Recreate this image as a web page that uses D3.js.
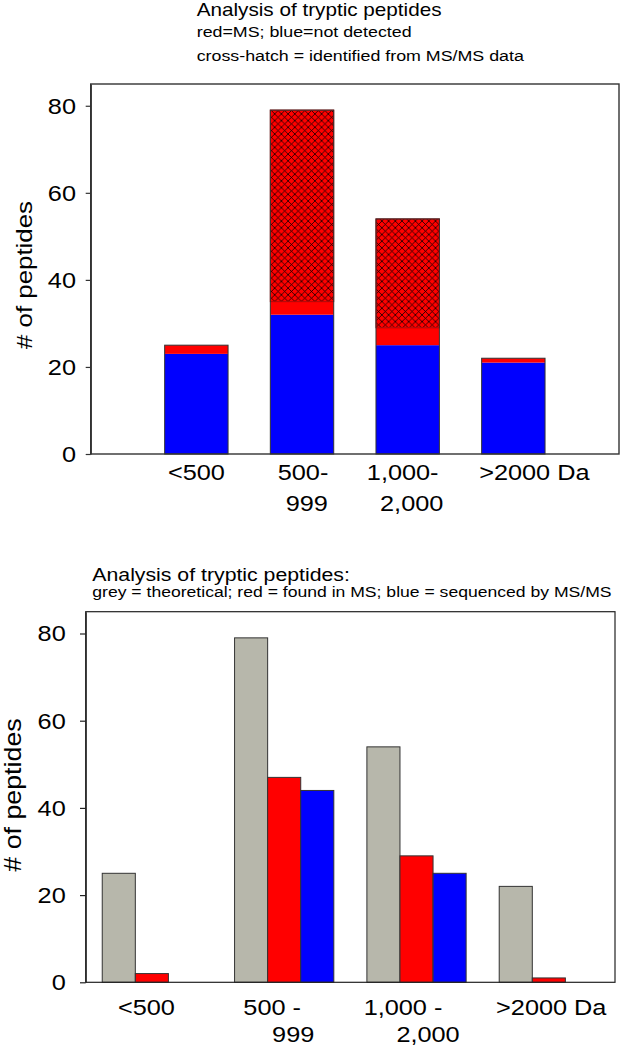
<!DOCTYPE html>
<html><head><meta charset="utf-8">
<script src="https://cdn.jsdelivr.net/npm/d3@7"></script>
<style>body{margin:0;background:#fff}svg{display:block;font-family:"Liberation Sans",Arial,sans-serif}</style>
</head><body>
<svg id="c" width="620" height="1050"></svg>
<script>
// ---- data ----
const categoriesTop = [["<500"], ["500-", "999"], ["1,000-", "2,000"], [">2000 Da"]];
const categoriesBottom = [["<500"], ["500 -", "999"], ["1,000 -", "2,000"], [">2000 Da"]];
const categoryKeys = ["<500", "500-999", "1,000-2,000", ">2000"];
const theoretical = [25, 79, 54, 22];
const foundInMS = [2, 47, 29, 1];
const sequencedMSMS = [0, 44, 25, 0];
const notDetected = [23, 32, 25, 21];
const yTicks = [0, 20, 40, 60, 80];
const titleTop = ["Analysis of tryptic peptides", "red=MS; blue=not detected", "cross-hatch = identified from MS/MS data"];
const titleBottom = ["Analysis of tryptic peptides:", "grey = theoretical; red = found in MS; blue = sequenced by MS/MS"];
const yTitle = "# of peptides";

// ---- style / layout ----
const SX = 1.15;
const RED = "#ff0000", BLUE = "#0000ff", GREY = "#b7b7ab";
const svg = d3.select("#c");

function txt(g, x, y, s, size, anchor, rot) {
  return g.append("text")
    .attr("transform", `translate(${x},${y})` + (rot ? ` rotate(${rot})` : "") + ` scale(${SX},1)`)
    .attr("text-anchor", anchor || "start")
    .attr("font-size", size)
    .attr("fill", "#000")
    .text(s);
}

const defs = svg.append("defs");
const pat = defs.append("pattern").attr("id", "xh").attr("patternUnits", "userSpaceOnUse")
  .attr("width", 6.7).attr("height", 6.7);
pat.append("rect").attr("width", 6.7).attr("height", 6.7).attr("fill", RED);
pat.append("path").attr("d", "M0,0L6.7,6.7M6.7,0L0,6.7").attr("stroke", "#000").attr("stroke-width", 0.75);

// ================= TOP CHART =================
{
  const L = 90.7, R = 619, T = 84, B = 454;
  const x = d3.scaleLinear().domain([0, 5]).range([L, R]);
  const y = d3.scaleLinear().domain([0, 85]).range([B, T]);
  const g = svg.append("g");
  const bw = x(0.6) - x(0);

  const msOnly = foundInMS.map((v, i) => v - sequencedMSMS[i]);
  const segs = [];
  categoryKeys.forEach((k, i) => {
    const b0 = 0, b1 = notDetected[i], b2 = b1 + msOnly[i], b3 = b2 + sequencedMSMS[i];
    segs.push({ i, y0: b0, y1: b1, fill: BLUE });
    segs.push({ i, y0: b1, y1: b2, fill: RED });
    if (b3 > b2) segs.push({ i, y0: b2, y1: b3, fill: "url(#xh)", hatch: true });
  });
  g.selectAll("rect.seg").data(segs).join("rect").attr("class", "seg")
    .attr("x", d => x(d.i + 1) - bw / 2).attr("width", bw)
    .attr("y", d => y(d.y1)).attr("height", d => y(d.y0) - y(d.y1))
    .attr("fill", d => d.fill)
    .attr("stroke", d => d.hatch ? "#b00000" : "none").attr("stroke-width", 1);
  g.selectAll("rect.out").data(theoretical).join("rect").attr("class", "out")
    .attr("x", (d, i) => x(i + 1) - bw / 2).attr("width", bw)
    .attr("y", d => y(d)).attr("height", d => y(0) - y(d))
    .attr("fill", "none").attr("stroke", "#333").attr("stroke-width", 1);

  // frame
  g.append("rect").attr("x", L).attr("y", T).attr("width", R - L).attr("height", B - T)
    .attr("fill", "none").attr("stroke", "#333").attr("stroke-width", 1.4);

  const ax = g.append("g").attr("transform", `translate(${L},0)`)
    .call(d3.axisLeft(y).tickValues(yTicks).tickSize(5).tickSizeOuter(0).tickFormat(""));
  ax.select(".domain").attr("stroke", "#333").attr("stroke-width", 1.4);
  ax.selectAll(".tick line").attr("stroke", "#333").attr("stroke-width", 1.2);
  yTicks.forEach(v => txt(g, L - 14.7, y(v) + 0.358 * 22, String(v), 22, "end"));

  txt(g, 32, 275, yTitle, 22.5, "middle", -90);

  const shift = [[0], [1, 4.7], [-5, 4], [21]];
  const rowY = [480, 510.7];
  categoriesTop.forEach((lines, i) => lines.forEach((s, j) =>
    txt(g, x(i + 1) + shift[i][j], rowY[j], s, 22, "middle")));

  txt(g, 196.7, 15.5, titleTop[0], 18);
  txt(g, 196.7, 37, titleTop[1], 15.5);
  txt(g, 196.7, 60.7, titleTop[2], 15.5);
}

// ================= BOTTOM CHART =================
{
  const L = 85.7, R = 615, T = 611.7, B = 982.3;
  const x0 = d3.scaleBand().domain(categoryKeys).range([L, R]).paddingInner(0.25).paddingOuter(0.125);
  const series = [
    { key: "theoretical", vals: theoretical, fill: GREY },
    { key: "ms", vals: foundInMS, fill: RED },
    { key: "msms", vals: sequencedMSMS, fill: BLUE }
  ];
  const x1 = d3.scaleBand().domain(series.map(s => s.key)).range([0, x0.bandwidth()]).padding(0);
  const y = d3.scaleLinear().domain([0, 85]).range([B, T]);
  const g = svg.append("g");

  const bars = [];
  categoryKeys.forEach((k, i) => series.forEach(s => {
    if (s.vals[i] > 0) bars.push({ k, s, v: s.vals[i] });
  }));
  g.selectAll("rect.bar").data(bars).join("rect").attr("class", "bar")
    .attr("x", d => x0(d.k) + x1(d.s.key)).attr("width", x1.bandwidth())
    .attr("y", d => y(d.v)).attr("height", d => y(0) - y(d.v))
    .attr("fill", d => d.s.fill).attr("stroke", "#333").attr("stroke-width", 1);

  g.append("rect").attr("x", L).attr("y", T).attr("width", R - L).attr("height", B - T)
    .attr("fill", "none").attr("stroke", "#222").attr("stroke-width", 1.2);

  const ax = g.append("g").attr("transform", `translate(${L},0)`)
    .call(d3.axisLeft(y).tickValues(yTicks).tickSize(5.7).tickSizeOuter(0).tickFormat(""));
  ax.select(".domain").attr("stroke", "#222").attr("stroke-width", 1.2);
  ax.selectAll(".tick line").attr("stroke", "#222").attr("stroke-width", 1.2);
  yTicks.forEach(v => txt(g, L - 20, y(v) + 0.358 * 22, String(v), 22, "end"));

  txt(g, 20.5, 795, yTitle, 23.3, "middle", -90);

  const shift = [[-5.5], [-12, 9], [-13.5, 11.5], [2.4]];
  const rowY = [1015, 1041.7];
  categoriesBottom.forEach((lines, i) => lines.forEach((s, j) =>
    txt(g, x0(categoryKeys[i]) + x0.bandwidth() / 2 + shift[i][j], rowY[j], s, 22, "middle")));

  txt(g, 92.3, 580.5, titleBottom[0], 18.5);
  txt(g, 92.3, 597, titleBottom[1], 15.3);
}
</script>
</body></html>
